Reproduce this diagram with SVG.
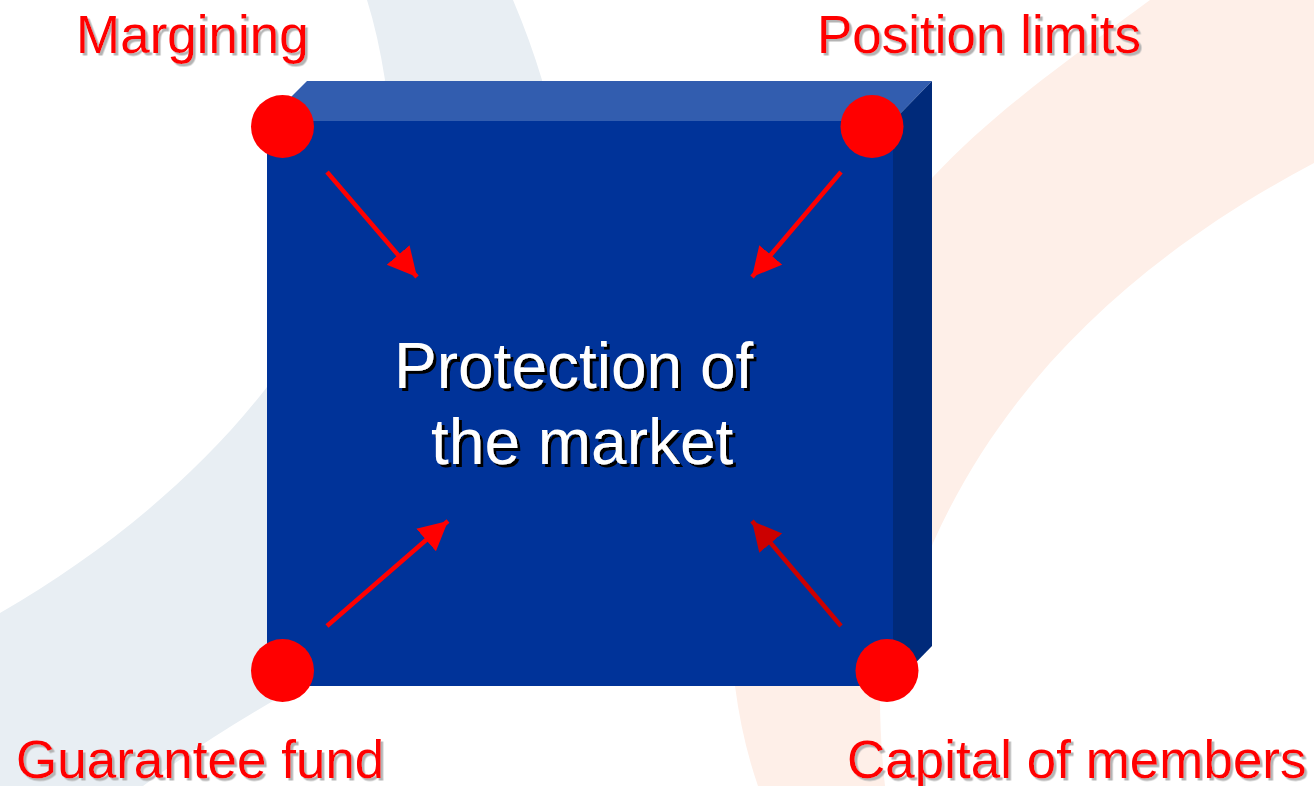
<svg xmlns="http://www.w3.org/2000/svg" width="1314" height="786" viewBox="0 0 1314 786">
<style>
text{font-family:"Liberation Sans",Arial,sans-serif}
.lbl{font-size:53px;fill:#ff0000;filter:url(#sg)}
.ttl{font-size:64px;fill:#ffffff;filter:url(#sk)}
.dot{fill:#ff0000}
.a1{fill:none;stroke:#ff0000;stroke-width:4.5;marker-end:url(#ah)}
.a2{fill:none;stroke:#cc0000;stroke-width:4.5;marker-end:url(#ah2)}
</style>
<defs>
<marker id="ah" markerUnits="userSpaceOnUse" markerWidth="32" markerHeight="32" refX="29" refY="15" orient="auto"><path d="M0,0L29,15L0,30Z" fill="#ff0000"/></marker>
<marker id="ah2" markerUnits="userSpaceOnUse" markerWidth="32" markerHeight="32" refX="29" refY="15" orient="auto"><path d="M0,0L29,15L0,30Z" fill="#cc0000"/></marker>
<filter id="sg" x="-5%" y="-20%" width="110%" height="140%"><feDropShadow dx="2.5" dy="2.5" stdDeviation="0.6" flood-color="#b4b4b4"/></filter>
<filter id="sk" x="-5%" y="-20%" width="110%" height="140%"><feDropShadow dx="3" dy="3" stdDeviation="0.5" flood-color="#000000"/></filter>
</defs>
<rect width="1314" height="786" fill="#ffffff"/>
<g id="background">
<path d="M367,0L513,0Q530,40 542,80L560,300L300,690L280,697Q205,740 143,786L0,786L0,613C100,555 195,480 267,387L385,80Q378,35 367,0Z" fill="#e8eef3"/>
<path d="M1150,0C1090,45 1000,105 933,177L800,330L735,686Q742,740 758,786L885,786Q880,740 880,697L933,543C1010,370 1150,250 1314,163L1314,0Z" fill="#feefe8"/>
</g>
<g id="block">
<polygon points="267,121 307,81 932,81 893,121" fill="#325daf"/>
<polygon points="893,121 932,81 932,646 893,686" fill="#002a7a"/>
<rect x="267" y="121" width="626" height="565" fill="#003399"/>
<text class="ttl" x="394" y="388">Protection of</text>
<text class="ttl" x="431" y="464">the market</text>
</g>
<g id="connectors">
<line class="a1" x1="327" y1="172" x2="417" y2="277"/>
<line class="a1" x1="841" y1="172" x2="752" y2="277"/>
<line class="a1" x1="327" y1="626" x2="448" y2="521"/>
<line class="a2" x1="841" y1="626" x2="752" y2="521"/>
</g>
<g id="margining"><circle class="dot" cx="282.5" cy="126.5" r="31.5"/><text class="lbl" x="76" y="53">Margining</text></g>
<g id="position-limits"><circle class="dot" cx="872" cy="126.5" r="31.5"/><text class="lbl" x="817" y="53">Position limits</text></g>
<g id="guarantee-fund"><circle class="dot" cx="282.5" cy="670.5" r="31.5"/><text class="lbl" x="16" y="778">Guarantee fund</text></g>
<g id="capital-of-members"><circle class="dot" cx="887" cy="670.5" r="31.5"/><text class="lbl" x="847" y="778">Capital of members</text></g>
</svg>
